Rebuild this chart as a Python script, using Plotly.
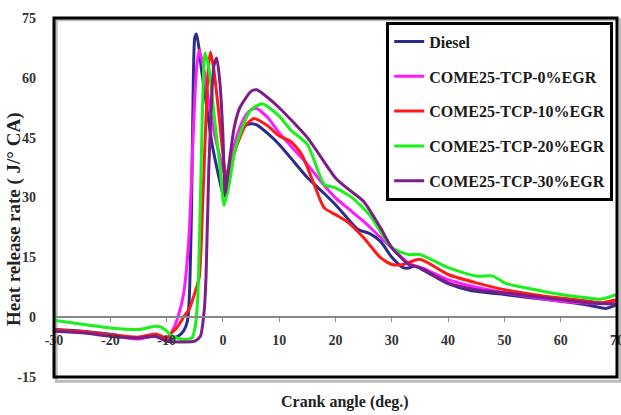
import plotly.graph_objects as go

# ---------------- data ----------------
names = ["Diesel", "COME25-TCP-0%EGR", "COME25-TCP-10%EGR", "COME25-TCP-20%EGR", "COME25-TCP-30%EGR"]
colors = ["#2B2C8C", "#FF1AFF", "#FF1A1A", "#1AF01A", "#7B1E86"]

diesel_x = [-30, -25, -20, -15, -12, -10, -8, -7, -6.3, -6, -5.6, -5.3, -5.0, -4.7, -4.2, -3.8, -3, -2, -1, 0, 0.4, 1, 2, 3, 4, 5, 6, 8, 10, 12, 15, 18, 20, 22, 24, 26, 28, 30, 32, 33, 34, 36, 40, 44, 50, 55, 60, 65, 68, 69, 70]
diesel_y = [-3.1, -3.5, -4.3, -5.3, -4.8, -5.6, -4.8, -3.5, -1, 4, 25, 55, 70, 71, 67, 62, 54, 44, 37, 31, 30.3, 35.7, 42.4, 46.2, 48.1, 48.5, 48.2, 46, 43.3, 40, 35, 31, 28.2, 25, 22, 21, 19, 15, 12.4, 12.3, 12.8, 11.5, 8.4, 6.7, 5.7, 4.8, 4, 3, 2.2, 2.6, 3.2]

egr0_x = [-30, -25, -20, -15, -12, -10, -9, -8, -7, -6, -5.3, -4.7, -4.2, -3.5, -2.5, -1.5, -0.5, 0.3, 1, 2, 3, 4, 5, 6, 8, 10, 12, 15, 18, 20, 22, 25, 28, 30, 33, 36, 40, 45, 50, 55, 60, 65, 70]
egr0_y = [-3.3, -3.8, -4.5, -5.5, -4.5, -5.5, -3.5, 0, 5.7, 20.7, 45, 62, 67, 63, 54, 46, 40, 36, 37, 43, 47.5, 50.5, 52, 52.3, 50, 46.2, 43, 38.3, 33, 29.9, 27.5, 24, 20, 17.4, 13.5, 12, 9.4, 7.5, 6.1, 5, 4, 3.5, 3.6]

egr10_x = [-30, -25, -20, -15, -12, -10, -9, -8, -7, -6, -5, -4.2, -3.6, -3, -2.6, -2.2, -1.6, -0.8, 0, 0.6, 1.2, 2, 3, 4, 5.5, 8, 10, 12, 14, 16, 18, 20, 22, 25, 28, 30, 32, 35, 40, 45, 50, 55, 60, 65, 67, 70]
egr10_y = [-3.2, -3.6, -4.4, -5, -4.2, -5.2, -3.8, -2.3, 0, 2, 6, 10, 28, 50, 62, 66.5, 62, 52, 41, 35, 36, 41, 45, 48, 49.8, 47.9, 45.4, 44.1, 40.8, 34, 27.4, 25.7, 24, 19.9, 14.9, 13.2, 13.2, 14.5, 10.7, 8.6, 6.9, 5.7, 4.8, 4, 3.6, 4.4]

egr20_x = [-30, -25, -20, -15, -12, -11, -10, -9, -7, -5.5, -5, -4.5, -4, -3.6, -3.2, -2.5, -1.5, -0.5, 0.2, 1, 2, 3, 5, 7, 10, 12, 15, 18, 20, 23, 26, 30, 33, 35, 40, 45, 48, 50, 55, 60, 65, 67, 70]
egr20_y = [-0.8, -1.8, -2.7, -3.1, -2.3, -2.5, -3.5, -4.8, -5.6, -5.2, -3, 4, 29, 54, 66.2, 62.5, 50, 37.4, 28, 32.4, 40.8, 45.8, 52, 53.5, 50.4, 47, 43.3, 33.3, 32.4, 29.9, 25.7, 17.4, 15.7, 15.7, 12.4, 10.3, 10.3, 8.6, 7, 5.7, 4.8, 4.5, 5.7]

egr30_x = [-30, -25, -20, -15, -12, -10, -7, -5, -4, -3.3, -3, -2.5, -2, -1.6, -1.1, -0.5, 0, 0.4, 1, 2, 3, 5, 6, 8, 10, 15, 20, 22, 25, 28, 30, 33, 35, 40, 45, 50, 60, 65, 70]
egr30_y = [-3.5, -3.9, -4.8, -5.2, -4.8, -6, -6.2, -6, -4.8, 2, 10, 37.4, 55, 63, 65, 58.3, 45.8, 31, 37.4, 47.5, 52.5, 56.6, 57, 55, 52.5, 45, 34.9, 32.4, 29, 22.4, 17.4, 13.2, 12.4, 8.6, 6.9, 6.1, 4.4, 3.6, 3.2]

xs = [diesel_x, egr0_x, egr10_x, egr20_x, egr30_x]
ys = [diesel_y, egr0_y, egr10_y, egr20_y, egr30_y]

x_ticks = [-30, -20, -10, 0, 10, 20, 30, 40, 50, 60, 70]
y_ticks = [-15, 0, 15, 30, 45, 60, 75]

SERIF = "Liberation Serif, Times New Roman, serif"

fig = go.Figure()
for i in range(len(names)):
    fig.add_trace(go.Scatter(
        x=xs[i], y=ys[i], mode="lines", name=names[i], legendgroup=names[i],
        line=dict(color=colors[i], width=3, shape="spline", smoothing=0.6),
    ))

fig.update_layout(
    width=621, height=415,
    margin=dict(l=54, r=4, t=18, b=38, autoexpand=False),
    paper_bgcolor="white", plot_bgcolor="white",
    font=dict(family=SERIF, color="#222", size=13),
    showlegend=True,
    legend=dict(
        x=0.59, y=0.99, xanchor="left", yanchor="top",
        bgcolor="white", bordercolor="black", borderwidth=3,
        font=dict(family=SERIF, size=16, color="#1a1a1a", weight="bold"),
        traceorder="grouped", tracegroupgap=11,
    ),
    xaxis=dict(
        range=[-30, 70], tickvals=x_ticks, ticktext=[str(v) for v in x_ticks],
        anchor="free", position=15 / 90, automargin=False,
        showline=True, linecolor="#888", linewidth=1.5,
        ticks="outside", ticklen=4, tickcolor="#888",
        showgrid=False, zeroline=False,
        tickfont=dict(family=SERIF, size=14, weight="bold", color="#333"),
        ticklabelstandoff=6, ticklabeloverflow="allow",
    ),
    yaxis=dict(
        range=[-15, 75], tickvals=y_ticks, ticktext=[str(v) for v in y_ticks],
        showgrid=False, zeroline=False, showline=False, ticks="", automargin=False,
        tickfont=dict(family=SERIF, size=14, weight="bold", color="#333"),
        ticklabelstandoff=17,
    ),
)

# shadow and frame around the plot area
fig.add_shape(type="rect", xref="x domain", yref="y domain", x0=0.004, x1=1.006, y0=-0.012, y1=0.995,
              line=dict(color="#BBBBBB", width=3), layer="below")
fig.add_shape(type="rect", xref="x domain", yref="y domain", x0=0, x1=1, y0=0, y1=1,
              line=dict(color="black", width=3))

fig.add_annotation(text="Heat release rate ( J/° CA)", xref="paper", yref="paper", x=0, y=0.44,
                   xanchor="center", yanchor="middle",
                   xshift=-40, textangle=-90, showarrow=False,
                   font=dict(family=SERIF, size=19, weight="bold", color="#222"))
fig.add_annotation(text="Crank angle (deg.)", xref="paper", yref="paper", x=0.516, y=0,
                   yanchor="middle", yshift=-25, showarrow=False,
                   font=dict(family=SERIF, size=16, weight="bold", color="#222"))

fig.write_html("out.html")
